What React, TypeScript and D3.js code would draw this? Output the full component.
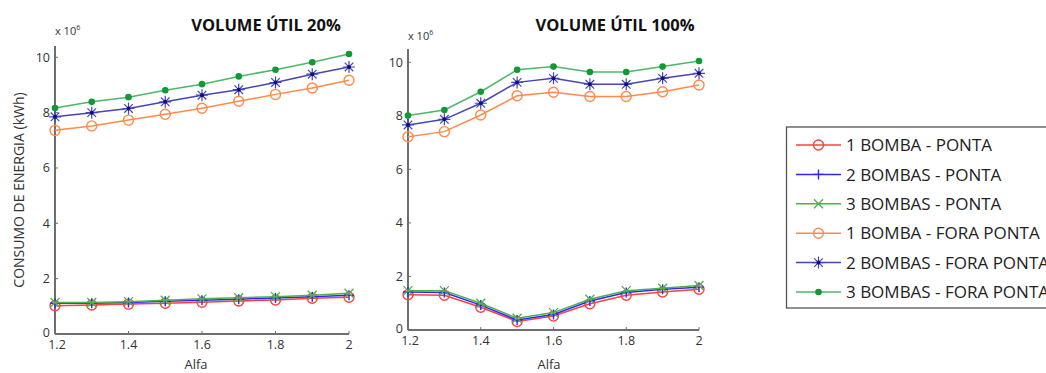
import React from "react";
import * as d3 from "d3";

// Alfa values (x axis)
const alfa = [1.2, 1.3, 1.4, 1.5, 1.6, 1.7, 1.8, 1.9, 2.0];

// VOLUME ÚTIL 20% — energy consumption (x 10^6 kWh)
const v20_1bPonta = [1.02, 1.05, 1.08, 1.11, 1.15, 1.19, 1.23, 1.29, 1.33];
const v20_2bPonta = [1.11, 1.11, 1.14, 1.18, 1.22, 1.26, 1.30, 1.35, 1.40];
const v20_3bPonta = [1.14, 1.14, 1.17, 1.22, 1.27, 1.31, 1.35, 1.40, 1.47];
const v20_1bFora = [7.36, 7.52, 7.73, 7.94, 8.16, 8.41, 8.66, 8.89, 9.17];
const v20_2bFora = [7.85, 8.0, 8.15, 8.39, 8.63, 8.83, 9.09, 9.39, 9.65];
const v20_3bFora = [8.17, 8.39, 8.56, 8.81, 9.03, 9.31, 9.55, 9.82, 10.12];

// VOLUME ÚTIL 100% — energy consumption (x 10^6 kWh)
const v100_1bPonta = [1.32, 1.30, 0.85, 0.32, 0.52, 0.98, 1.30, 1.42, 1.52];
const v100_2bPonta = [1.42, 1.40, 0.93, 0.37, 0.58, 1.08, 1.40, 1.52, 1.60];
const v100_3bPonta = [1.47, 1.47, 1.0, 0.44, 0.65, 1.15, 1.47, 1.56, 1.66];
const v100_1bFora = [7.22, 7.41, 8.03, 8.75, 8.88, 8.72, 8.72, 8.90, 9.15];
const v100_2bFora = [7.66, 7.87, 8.47, 9.25, 9.40, 9.18, 9.18, 9.40, 9.59];
const v100_3bFora = [8.01, 8.22, 8.90, 9.72, 9.84, 9.64, 9.64, 9.84, 10.05];

const seriesNames = [
  "1 BOMBA - PONTA",
  "2 BOMBAS - PONTA",
  "3 BOMBAS - PONTA",
  "1 BOMBA - FORA PONTA",
  "2 BOMBAS - FORA PONTA",
  "3 BOMBAS - FORA PONTA",
];
const xTicks = [1.2, 1.4, 1.6, 1.8, 2];
const yTicks = [0, 2, 4, 6, 8, 10];

type MarkerKind = "circle" | "plus" | "x" | "star" | "dot";
const styles: { color: string; marker: MarkerKind; fill?: string }[] = [
  { color: "#ff4040", marker: "circle" },
  { color: "#2a2aff", marker: "plus" },
  { color: "#4cb04c", marker: "x" },
  { color: "#ff8a4a", marker: "circle" },
  { color: "#4646b4", marker: "star", fill: "#10107a" },
  { color: "#4cb868", marker: "dot", fill: "#119933" },
];

const FONT = "'Open Sans', 'Liberation Sans', sans-serif";

function Marker({ kind, x, y, color, fill }: { kind: MarkerKind; x: number; y: number; color: string; fill?: string }) {
  if (kind === "circle") return <circle cx={x} cy={y} r={5} fill="none" stroke={color} strokeWidth={1.4} />;
  if (kind === "plus")
    return (
      <path d={`M${x - 5},${y}H${x + 5}M${x},${y - 5}V${y + 5}`} stroke={color} strokeWidth={1.4} />
    );
  if (kind === "x")
    return (
      <path d={`M${x - 4.5},${y - 4.5}L${x + 4.5},${y + 4.5}M${x - 4.5},${y + 4.5}L${x + 4.5},${y - 4.5}`} stroke={color} strokeWidth={1.3} />
    );
  if (kind === "star")
    return (
      <g>
        <path
          d={`M${x - 6},${y}H${x + 6}M${x},${y - 6}V${y + 6}M${x - 4.3},${y - 4.3}L${x + 4.3},${y + 4.3}M${x - 4.3},${y + 4.3}L${x + 4.3},${y - 4.3}`}
          stroke={color}
          strokeWidth={1.2}
        />
        <circle cx={x} cy={y} r={2} fill={fill} />
      </g>
    );
  return <circle cx={x} cy={y} r={3.3} fill={fill} />;
}

function Panel({
  title, data, x0, x1, y0, y10, yTop, titleX, labelX, showYLabel,
}: {
  title: string; data: number[][]; x0: number; x1: number; y0: number; y10: number; yTop: number; titleX: number; labelX: number; showYLabel: boolean;
}) {
  const x = d3.scaleLinear().domain([1.2, 2]).range([x0, x1]);
  const y = d3.scaleLinear().domain([0, 10]).range([y0, y10]);
  const line = d3.line<number>().x((_, i) => x(alfa[i])).y((v) => y(v));
  const axisColor = "#6e6e6e";
  return (
    <g>
      <text x={titleX} y={31} fontFamily={FONT} fontWeight={700} fontSize={16.5} fill="#111" textAnchor="middle">
        {title}
      </text>
      <text x={x0} y={y(10) - 22} fontFamily={FONT} fontSize={11} fill="#333">
        x 10
        <tspan dy={-5} fontSize={7}>6</tspan>
      </text>
      {/* axes */}
      <line x1={x0} y1={yTop} x2={x0} y2={y0} stroke={axisColor} strokeWidth={2} />
      <line x1={x0} y1={y0} x2={x1} y2={y0} stroke={axisColor} strokeWidth={2} />
      {yTicks.map((t) => (
        <g key={"y" + t}>
          <line x1={x0} x2={x0 + 3} y1={y(t)} y2={y(t)} stroke={axisColor} strokeWidth={1} />
          <text x={x0 - 5} y={y(t) - (t === 0 ? 1 : 0)} dy="0.35em" textAnchor="end" fontFamily={FONT} fontSize={12.5} fill="#333">
            {t}
          </text>
        </g>
      ))}
      {xTicks.map((t) => (
        <g key={"x" + t}>
          <line x1={x(t)} x2={x(t)} y1={y0} y2={y0 - 3} stroke={axisColor} strokeWidth={1} />
          <text x={x(t) + (t === 1.2 ? 2 : 0)} y={y0 + 15} textAnchor="middle" fontFamily={FONT} fontSize={12.5} fill="#333">
            {String(t)}
          </text>
        </g>
      ))}
      <text x={labelX} y={368.5} textAnchor="middle" fontFamily={FONT} fontSize={13} fill="#333">
        Alfa
      </text>
      {showYLabel && (
        <text
          transform={`translate(24,${(y0 + yTop) / 2}) rotate(-90)`}
          textAnchor="middle"
          fontFamily={FONT}
          fontSize={14}
          fill="#333"
        >
          CONSUMO DE ENERGIA (kWh)
        </text>
      )}
      {data.map((vals, si) => (
        <g key={si}>
          <path d={line(vals) ?? ""} fill="none" stroke={styles[si].color} strokeWidth={1.5} />
          {vals.map((v, i) => (
            <Marker key={i} kind={styles[si].marker} x={x(alfa[i])} y={y(v)} color={styles[si].color} fill={styles[si].fill} />
          ))}
        </g>
      ))}
    </g>
  );
}

export default function App() {
  const d20 = [v20_1bPonta, v20_2bPonta, v20_3bPonta, v20_1bFora, v20_2bFora, v20_3bFora];
  const d100 = [v100_1bPonta, v100_2bPonta, v100_3bPonta, v100_1bFora, v100_2bFora, v100_3bFora];
  const legendY0 = 145;
  const legendStep = 29.4;
  return (
    <svg width={1046} height={373} style={{ position: "absolute", left: 0, top: 0, background: "#fff" }}>
      <rect width={1046} height={373} fill="#fff" />
      <Panel title="VOLUME ÚTIL 20%" data={d20} x0={55} x1={349} y0={334} y10={57.3} yTop={46} titleX={266} labelX={196} showYLabel={true} />
      <Panel title="VOLUME ÚTIL 100%" data={d100} x0={408} x1={699} y0={330} y10={62.3} yTop={49} titleX={615} labelX={549} showYLabel={false} />
      {/* legend */}
      <rect x={786.5} y={127} width={270} height={181} fill="#fff" stroke="#555" strokeWidth={1.3} />
      {seriesNames.map((name, i) => {
        const ly = legendY0 + i * legendStep;
        const s = styles[i];
        return (
          <g key={name}>
            <line x1={796} x2={841} y1={ly} y2={ly} stroke={s.color} strokeWidth={1.5} />
            <Marker kind={s.marker} x={818.5} y={ly} color={s.color} fill={s.fill} />
            <text x={846} y={ly} dy="0.36em" fontFamily={FONT} fontSize={17} fill="#222">
              {name}
            </text>
          </g>
        );
      })}
    </svg>
  );
}
